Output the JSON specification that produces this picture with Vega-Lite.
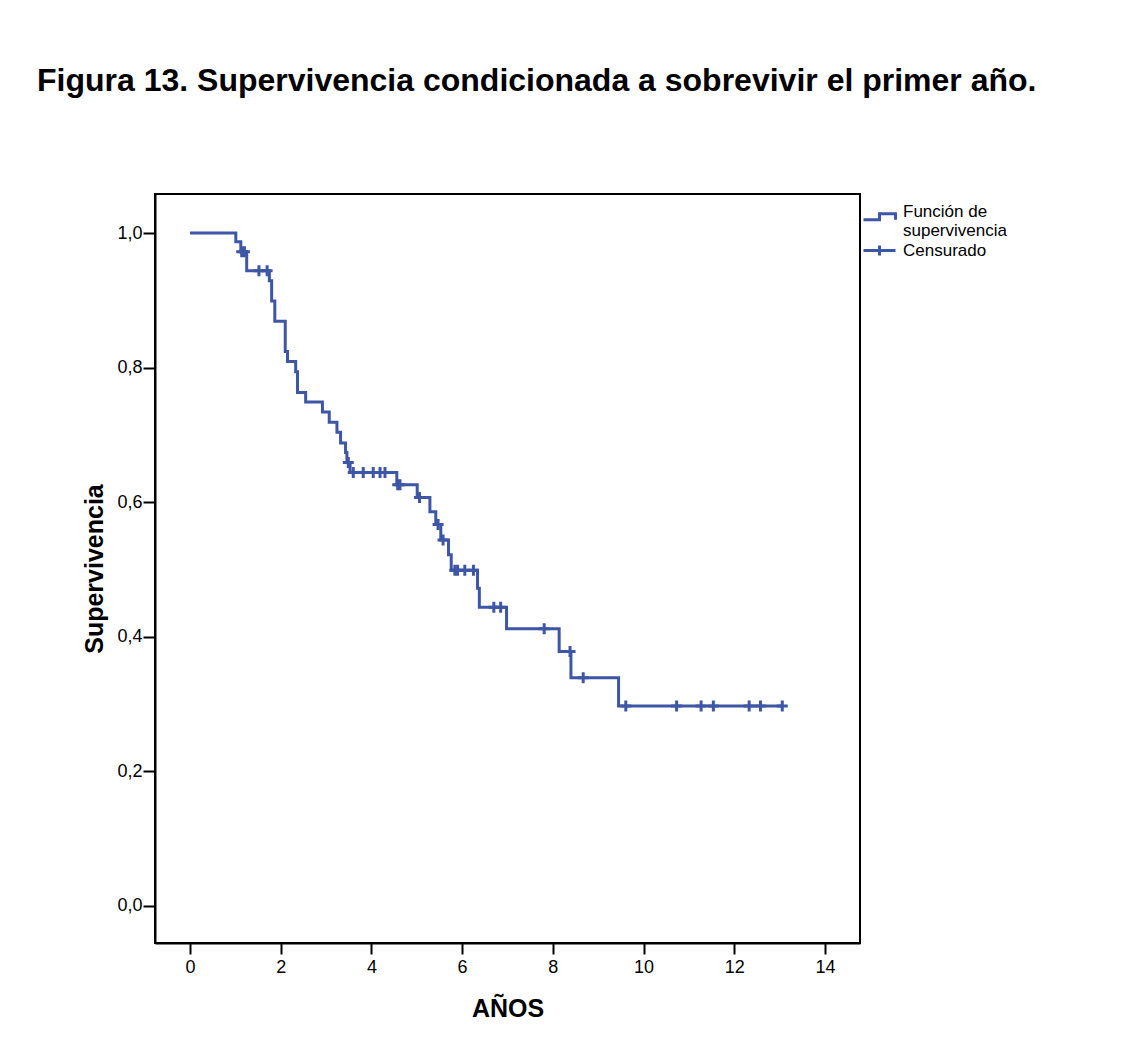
{
  "$schema": "https://vega.github.io/schema/vega-lite/v6.json",
  "width": 705,
  "height": 749,
  "autosize": {"type": "none"},
  "padding": {"left": 155, "top": 194, "right": 271, "bottom": 107},
  "background": "white",
  "title": {
    "text": "Figura 13. Supervivencia condicionada a sobrevivir el primer año.",
    "anchor": "start",
    "frame": "group",
    "font": "Liberation Sans",
    "fontWeight": "bold",
    "fontSize": 32,
    "color": "black",
    "baseline": "alphabetic",
    "dx": -118,
    "offset": 71
  },
  "config": {
    "locale": {"number": {"decimal": ",", "thousands": ".", "grouping": [3], "currency": ["", " €"]}},
    "view": {"stroke": "black", "strokeWidth": 2},
    "font": "Liberation Sans",
    "axis": {
      "grid": false,
      "domainColor": "black",
      "domainWidth": 2,
      "tickColor": "black",
      "tickWidth": 2,
      "labelColor": "black",
      "labelFont": "Liberation Sans",
      "labelFontSize": 18,
      "titleColor": "black",
      "titleFont": "Liberation Sans",
      "titleFontSize": 25,
      "titleFontWeight": "bold"
    },
    "legend": {
      "title": null,
      "orient": "right",
      "offset": 2,
      "padding": 0,
      "labelFont": "Liberation Sans",
      "labelFontSize": 17,
      "labelLineHeight": 18,
      "labelColor": "black",
      "labelOffset": 6,
      "symbolSize": 1024,
      "symbolStrokeWidth": 3,
      "symbolFillColor": "transparent",
      "rowPadding": 0,
      "layout": {"right": {"anchor": "start", "direction": "vertical", "margin": 0}}
    }
  },
  "datasets": {
    "curva": [
      {"t": 0, "s": 1.0, "serie": "Función de supervivencia"},
      {"t": 1.01, "s": 0.987, "serie": "Función de supervivencia"},
      {"t": 1.12, "s": 0.972, "serie": "Función de supervivencia"},
      {"t": 1.25, "s": 0.944, "serie": "Función de supervivencia"},
      {"t": 1.75, "s": 0.929, "serie": "Función de supervivencia"},
      {"t": 1.80, "s": 0.899, "serie": "Función de supervivencia"},
      {"t": 1.87, "s": 0.869, "serie": "Función de supervivencia"},
      {"t": 2.10, "s": 0.824, "serie": "Función de supervivencia"},
      {"t": 2.15, "s": 0.809, "serie": "Función de supervivencia"},
      {"t": 2.33, "s": 0.794, "serie": "Función de supervivencia"},
      {"t": 2.37, "s": 0.763, "serie": "Función de supervivencia"},
      {"t": 2.55, "s": 0.749, "serie": "Función de supervivencia"},
      {"t": 2.92, "s": 0.734, "serie": "Función de supervivencia"},
      {"t": 3.07, "s": 0.719, "serie": "Función de supervivencia"},
      {"t": 3.24, "s": 0.704, "serie": "Función de supervivencia"},
      {"t": 3.32, "s": 0.688, "serie": "Función de supervivencia"},
      {"t": 3.43, "s": 0.674, "serie": "Función de supervivencia"},
      {"t": 3.46, "s": 0.659, "serie": "Función de supervivencia"},
      {"t": 3.53, "s": 0.644, "serie": "Función de supervivencia"},
      {"t": 4.56, "s": 0.626, "serie": "Función de supervivencia"},
      {"t": 5.01, "s": 0.607, "serie": "Función de supervivencia"},
      {"t": 5.29, "s": 0.586, "serie": "Función de supervivencia"},
      {"t": 5.42, "s": 0.567, "serie": "Función de supervivencia"},
      {"t": 5.53, "s": 0.544, "serie": "Función de supervivencia"},
      {"t": 5.70, "s": 0.522, "serie": "Función de supervivencia"},
      {"t": 5.76, "s": 0.499, "serie": "Función de supervivencia"},
      {"t": 6.34, "s": 0.472, "serie": "Función de supervivencia"},
      {"t": 6.38, "s": 0.444, "serie": "Función de supervivencia"},
      {"t": 6.98, "s": 0.412, "serie": "Función de supervivencia"},
      {"t": 8.14, "s": 0.378, "serie": "Función de supervivencia"},
      {"t": 8.40, "s": 0.339, "serie": "Función de supervivencia"},
      {"t": 9.45, "s": 0.297, "serie": "Función de supervivencia"},
      {"t": 13.06, "s": 0.297, "serie": "Función de supervivencia"}
    ],
    "censuras": [
      {"t": 1.14, "s": 0.972, "serie": "Censurado"},
      {"t": 1.20, "s": 0.972, "serie": "Censurado"},
      {"t": 1.52, "s": 0.944, "serie": "Censurado"},
      {"t": 1.70, "s": 0.944, "serie": "Censurado"},
      {"t": 3.49, "s": 0.659, "serie": "Censurado"},
      {"t": 3.60, "s": 0.644, "serie": "Censurado"},
      {"t": 3.82, "s": 0.644, "serie": "Censurado"},
      {"t": 4.04, "s": 0.644, "serie": "Censurado"},
      {"t": 4.19, "s": 0.644, "serie": "Censurado"},
      {"t": 4.30, "s": 0.644, "serie": "Censurado"},
      {"t": 4.58, "s": 0.626, "serie": "Censurado"},
      {"t": 4.63, "s": 0.626, "serie": "Censurado"},
      {"t": 5.06, "s": 0.607, "serie": "Censurado"},
      {"t": 5.47, "s": 0.567, "serie": "Censurado"},
      {"t": 5.58, "s": 0.544, "serie": "Censurado"},
      {"t": 5.84, "s": 0.499, "serie": "Censurado"},
      {"t": 5.90, "s": 0.499, "serie": "Censurado"},
      {"t": 6.06, "s": 0.499, "serie": "Censurado"},
      {"t": 6.25, "s": 0.499, "serie": "Censurado"},
      {"t": 6.70, "s": 0.444, "serie": "Censurado"},
      {"t": 6.85, "s": 0.444, "serie": "Censurado"},
      {"t": 7.81, "s": 0.412, "serie": "Censurado"},
      {"t": 8.38, "s": 0.378, "serie": "Censurado"},
      {"t": 8.67, "s": 0.339, "serie": "Censurado"},
      {"t": 9.61, "s": 0.297, "serie": "Censurado"},
      {"t": 10.73, "s": 0.297, "serie": "Censurado"},
      {"t": 11.27, "s": 0.297, "serie": "Censurado"},
      {"t": 11.54, "s": 0.297, "serie": "Censurado"},
      {"t": 12.33, "s": 0.297, "serie": "Censurado"},
      {"t": 12.58, "s": 0.297, "serie": "Censurado"},
      {"t": 13.06, "s": 0.297, "serie": "Censurado"}
    ]
  },
  "encoding": {
    "x": {
      "field": "t",
      "type": "quantitative",
      "scale": {"domain": [-0.772, 14.774], "nice": false, "zero": false},
      "axis": {
        "title": "AÑOS",
        "values": [0, 2, 4, 6, 8, 10, 12, 14],
        "format": "d",
        "tickSize": 11,
        "labelPadding": 4,
        "titlePadding": 20
      }
    },
    "y": {
      "field": "s",
      "type": "quantitative",
      "scale": {"domain": [-0.055, 1.058], "nice": false, "zero": false},
      "axis": {
        "title": "Supervivencia",
        "values": [0, 0.2, 0.4, 0.6, 0.8, 1.0],
        "format": ".1f",
        "tickSize": 12,
        "labelPadding": 1,
        "titlePadding": 9
      }
    }
  },
  "layer": [
    {
      "data": {"name": "curva"},
      "mark": {"type": "line", "interpolate": "step-after", "strokeWidth": 3},
      "encoding": {
        "color": {
          "field": "serie",
          "type": "nominal",
          "scale": {"domain": ["Función de supervivencia"], "range": ["#3D56A6"]},
          "legend": {
            "symbolType": "M-1,0.52L0,0.52L0,0.14L1,0.14L1,0.52",
            "labelExpr": "datum.label == 'Función de supervivencia' ? ['Función de', 'supervivencia'] : datum.label"
          }
        }
      }
    },
    {
      "data": {"name": "censuras"},
      "mark": {"type": "point", "shape": "M-1,0L1,0M0,-1L0,1", "filled": false, "strokeWidth": 3, "size": 121, "opacity": 1},
      "encoding": {
        "stroke": {
          "field": "serie",
          "type": "nominal",
          "scale": {"domain": ["Censurado"], "range": ["#3D56A6"]},
          "legend": {
            "symbolType": "M-1,0L2.2,0M0.6,-0.5L0.6,0.5",
            "symbolSize": 400,
            "labelOffset": 18
          }
        }
      }
    }
  ]
}
